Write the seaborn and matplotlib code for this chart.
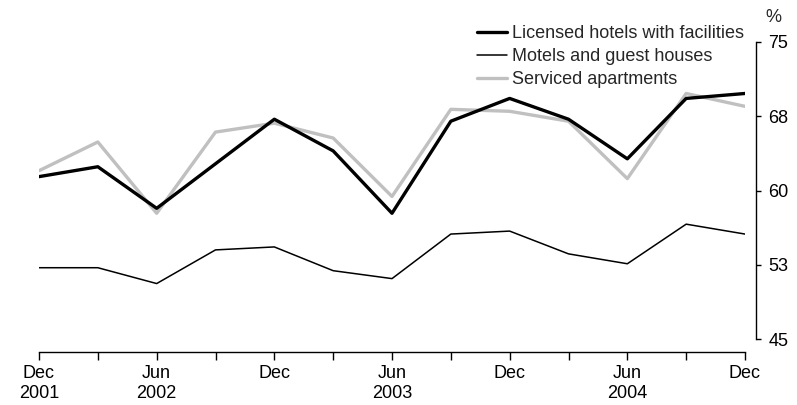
import numpy as np
import pandas as pd
import matplotlib
matplotlib.use("Agg")
import matplotlib.pyplot as plt
import seaborn as sns

quarters = ["Dec 2001", "Mar 2002", "Jun 2002", "Sep 2002", "Dec 2002", "Mar 2003",
            "Jun 2003", "Sep 2003", "Dec 2003", "Mar 2004", "Jun 2004", "Sep 2004", "Dec 2004"]
tick_labels = ["Dec\n2001", "", "Jun\n2002", "", "Dec", "", "Jun\n2003", "", "Dec", "",
               "Jun\n2004", "", "Dec"]
licensed = [61.4, 62.4, 58.2, 62.7, 67.2, 64.0, 57.7, 67.0, 69.3, 67.2, 63.2, 69.3, 69.8]
motels = [52.2, 52.2, 50.6, 54.0, 54.3, 51.9, 51.1, 55.6, 55.9, 53.6, 52.6, 56.6, 55.6]
serviced = [62.0, 64.9, 57.7, 65.9, 66.8, 65.3, 59.4, 68.2, 68.0, 67.0, 61.2, 69.8, 68.5]
y_ticks = [45, 52.5, 60, 67.5, 75]
y_tick_labels = ["45", "53", "60", "68", "75"]
series_names = ["Licensed hotels with facilities", "Motels and guest houses", "Serviced apartments"]

sns.set_style("ticks")
plt.rcParams["font.family"] = ["Liberation Sans", "DejaVu Sans"]
fs = 13

fig = plt.figure(figsize=(7.97, 4.05), dpi=100)
ax = fig.add_axes([39 / 797, 1 - 339 / 405, (745 - 39) / 797, (339 - 42) / 405])

x = np.arange(len(quarters))
styles = [("#000000", 2.4, 3), ("#000000", 1.1, 2), ("#c0c0c0", 2.4, 1)]
for vals, name, (col, lw, z) in zip([licensed, motels, serviced], series_names, styles):
    sns.lineplot(x=x, y=vals, ax=ax, color=col, linewidth=lw, label=name, zorder=z)

ax.set_xlim(0, len(quarters) - 1)
ax.set_ylim(45, 75)
ax.yaxis.tick_right()
ax.tick_params(axis="x", direction="out", length=5.8, width=1, pad=3.5, colors="black",
               labelsize=fs)
ax.tick_params(axis="y", direction="out", length=3.8, width=1, pad=5, colors="black",
               labelsize=fs)
ax.set_xticks(x)
ax.set_xticklabels(tick_labels, fontsize=fs, linespacing=1.4)
ax.set_yticks(y_ticks)
ax.set_yticklabels(y_tick_labels, fontsize=fs)
for s in ["top", "left"]:
    ax.spines[s].set_visible(False)
ax.spines["bottom"].set_position(("outward", 9.4))
ax.spines["right"].set_position(("outward", 8.0))
for s in ["bottom", "right"]:
    ax.spines[s].set_color("black")
    ax.spines[s].set_linewidth(1)
ax.set_xlabel("")
ax.set_ylabel("")
ax.grid(False)

leg = ax.legend(loc="upper left", bbox_to_anchor=(477 / 797, 1 - 25 / 405),
                bbox_transform=fig.transFigure, frameon=False, fontsize=fs,
                handlelength=1.65, handletextpad=0.3, labelspacing=0.33,
                borderpad=0, borderaxespad=0)
fig.text(773 / 797, 1 - 18 / 405, "%", ha="center", va="center", fontsize=fs)

fig.savefig("out.png", dpi=100)
